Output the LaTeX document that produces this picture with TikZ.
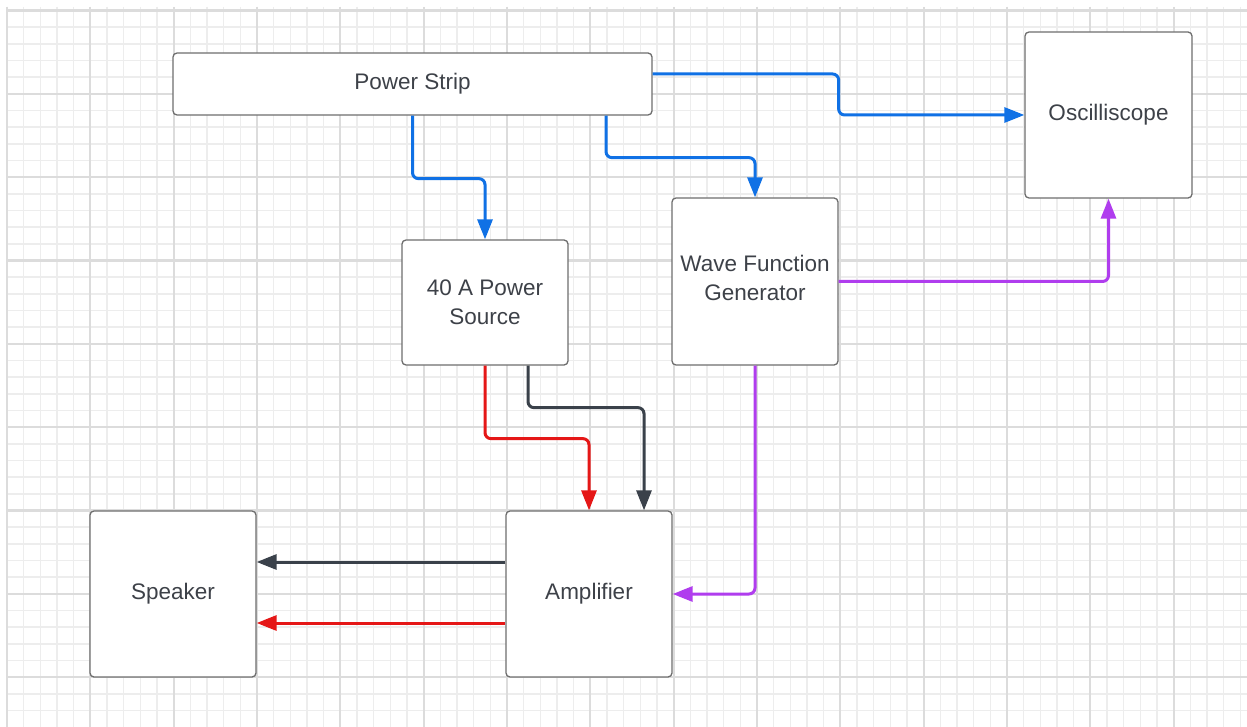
\documentclass[tikz,border=0pt]{standalone}
\usepackage{fontspec}
\setmainfont{Liberation Sans}
\usetikzlibrary{arrows.meta}
\definecolor{lblue}{HTML}{1071E5}
\definecolor{lpurple}{HTML}{B03DEE}
\definecolor{lred}{HTML}{E51717}
\definecolor{ldark}{HTML}{3A414A}
\definecolor{ltext}{HTML}{3D4148}
\definecolor{lborder}{HTML}{6E6E6E}
\definecolor{gmajor}{HTML}{DCDCDC}
\definecolor{gminor}{HTML}{EDEDED}
\tikzset{
  box/.style={draw=lborder, line width=1.3pt, fill=white, rounded corners=4pt,
    inner sep=0pt, align=center, text=ltext,
    font=\fontsize{22.5}{28.5}\selectfont},
  wire/.style={line width=3pt, rounded corners=6pt,
    -{Triangle[length=20pt,width=15pt]}},
  minorline/.style={draw=gminor, line width=1.5pt},
  majorline/.style={draw=gmajor, line width=2.2pt},
}
\begin{document}
\begin{tikzpicture}[x=1pt,y=-1pt]
\useasboundingbox (0,0) rectangle (1247,727);
\fill[white] (0,0) rectangle (1247,727);
% grid
\foreach \i in {0,...,74}{
  \draw[minorline] ({7+\i*16.6667},7) -- ({7+\i*16.6667},727);
}
\foreach \j in {0,...,42}{
  \draw[minorline] (7,{10.5+\j*16.6667}) -- (1247,{10.5+\j*16.6667});
}
\foreach \i in {0,...,14}{
  \draw[majorline] ({7+\i*83.3333},7) -- ({7+\i*83.3333},727);
}
\foreach \j in {0,...,8}{
  \draw[majorline] (7,{10.5+\j*83.3333}) -- (1247,{10.5+\j*83.3333});
}
% boxes
\node[box, minimum width=479pt, minimum height=62pt] (ps) at (412.5,84) {Power Strip};
\node[box, minimum width=167pt, minimum height=166pt] (osc) at (1108.5,115) {Oscilliscope};
\node[box, minimum width=166pt, minimum height=125pt] (src) at (485,302.5) {40 A Power\\Source};
\node[box, minimum width=166pt, minimum height=167pt] (wfg) at (755,281.5) {};
\node[text=ltext, font=\fontsize{22.5}{28.5}\selectfont, align=center, inner sep=0pt] (wfgt) at (755,278) {Wave Function\\Generator};
\node[box, minimum width=166pt, minimum height=166pt] (spk) at (173,594) {Speaker};
\node[box, minimum width=166pt, minimum height=166pt] (amp) at (589,594) {Amplifier};
% connectors
\draw[wire, lblue] (ps.south) -- ++(0,63) -| (src.north);
\draw[wire, lblue] ([xshift=193.5pt]ps.south) -- ++(0,42) -| (wfg.north);
\draw[wire, lblue] ([yshift=10pt]ps.east) -- ++(186,0) |- (osc.west);
\draw[wire, lpurple] (wfg.east) -| (osc.south);
\draw[wire, lpurple] (wfg.south) |- (amp.east);
\draw[wire, lred] (src.south) -- ++(0,73) -| (amp.north);
\draw[wire, ldark] ([xshift=43pt]src.south) -- ++(0,42) -| ([xshift=55pt]amp.north);
\draw[wire, ldark] ([yshift=32pt]amp.west) -- ([yshift=32pt]spk.east);
\draw[wire, lred] ([yshift=-29pt]amp.west) -- ([yshift=-29pt]spk.east);
\end{tikzpicture}
\end{document}
